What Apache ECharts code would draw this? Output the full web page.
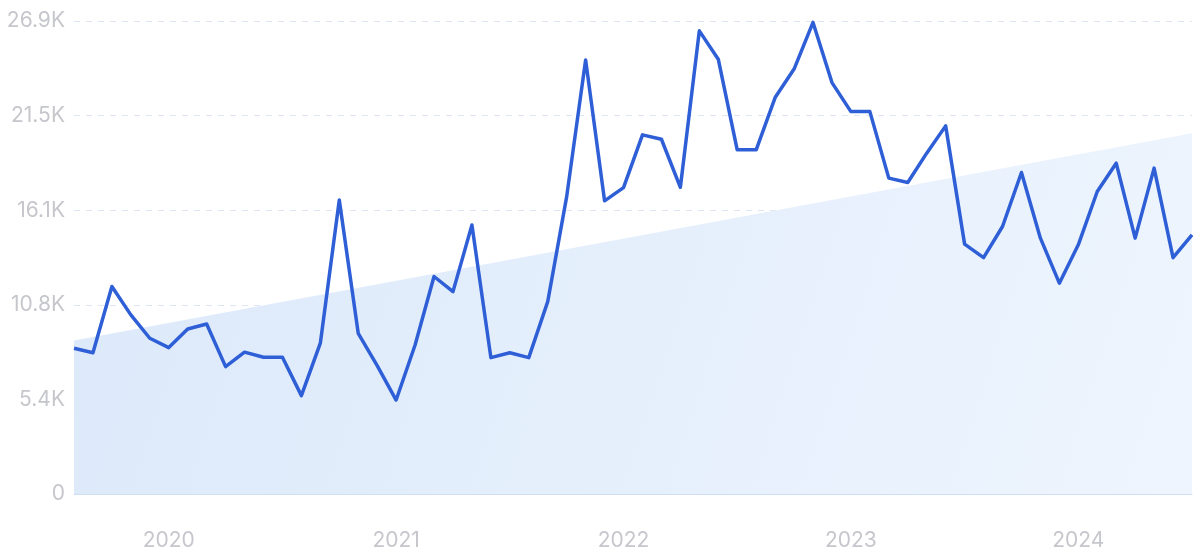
<!DOCTYPE html>
<html>
<head>
<meta charset="utf-8">
<script src="https://cdn.jsdelivr.net/npm/echarts@6/dist/echarts.min.js"></script>
<style>html,body{margin:0;padding:0;background:#fff}#c{width:1200px;height:559px}</style>
</head>
<body>
<div id="c"></div>
<script>
// Monthly categories Aug 2019 .. Jul 2024
const months = [
  '2019-08','2019-09','2019-10','2019-11','2019-12',
  '2020-01','2020-02','2020-03','2020-04','2020-05','2020-06','2020-07','2020-08','2020-09','2020-10','2020-11','2020-12',
  '2021-01','2021-02','2021-03','2021-04','2021-05','2021-06','2021-07','2021-08','2021-09','2021-10','2021-11','2021-12',
  '2022-01','2022-02','2022-03','2022-04','2022-05','2022-06','2022-07','2022-08','2022-09','2022-10','2022-11','2022-12',
  '2023-01','2023-02','2023-03','2023-04','2023-05','2023-06','2023-07','2023-08','2023-09','2023-10','2023-11','2023-12',
  '2024-01','2024-02','2024-03','2024-04','2024-05','2024-06','2024-07'
];
const values = [
  8280, 8030, 11790, 10180, 8850,
  8320, 9380, 9660, 7240, 8060, 7770, 7770, 5590, 8570, 16710, 9130, 7300,
  5340, 8470, 12360, 11500, 15290, 7750, 8030, 7750, 10930, 16900, 24670, 16660,
  17410, 20410, 20160, 17430, 26320, 24710, 19560, 19560, 22530, 24150, 26800, 23380,
  21730, 21730, 17950, 17700, 19370, 20920, 14200, 13430, 15200, 18270, 14540, 11980,
  14160, 17190, 18800, 14540, 18520, 13430, 14720
];
// Trend line end points (first and last month)
const trendStart = 8720;
const trendEnd = 20500;
const yTicks = [0, 5376, 10752, 16128, 21504, 26880];

const chart = echarts.init(document.getElementById('c'));
chart.setOption({
  animation: false,
  grid: {left: 74, right: 8, top: 21, bottom: 65},
  xAxis: [{
    type: 'category',
    data: months,
    boundaryGap: false,
    axisLine: {show: true, lineStyle: {color: '#cfdff4', width: 1}},
    axisTick: {show: false},
    axisLabel: {
      interval: (i, v) => v.endsWith('-01'),
      formatter: v => v.slice(0, 4),
      color: '#c6c7cc', fontSize: 21, fontFamily: 'Inter', margin: 36
    },
    splitLine: {show: false}
  }, {
    type: 'value', min: 0, max: months.length - 1, show: false
  }],
  yAxis: {
    type: 'value',
    min: yTicks[0], max: yTicks[yTicks.length - 1], interval: yTicks[1] - yTicks[0],
    axisLine: {show: false},
    axisTick: {show: false},
    axisLabel: {
      formatter: v => v === 0 ? '0' : (v / 1000).toFixed(1) + 'K',
      color: '#c6c7cc', fontSize: 21, fontFamily: 'Inter', margin: 9
    },
    splitLine: {show: true, lineStyle: {color: '#dde5f2', type: [6, 6], width: 1}}
  },
  series: [{
    type: 'line',
    xAxisIndex: 1,
    data: [[0, trendStart], [months.length - 1, trendEnd]],
    symbol: 'none',
    lineStyle: {width: 0, opacity: 0},
    areaStyle: {
      color: new echarts.graphic.LinearGradient(0, 0, 1, 1, [
        {offset: 0, color: '#dce9fa'},
        {offset: 1, color: '#eef5fe'}
      ]),
      opacity: 1
    },
    z: 1
  }, {
    type: 'line',
    data: values,
    symbol: 'none',
    lineStyle: {color: '#2e5fd6', width: 3.5, join: 'round'},
    z: 3
  }]
});
</script>
</body>
</html>
